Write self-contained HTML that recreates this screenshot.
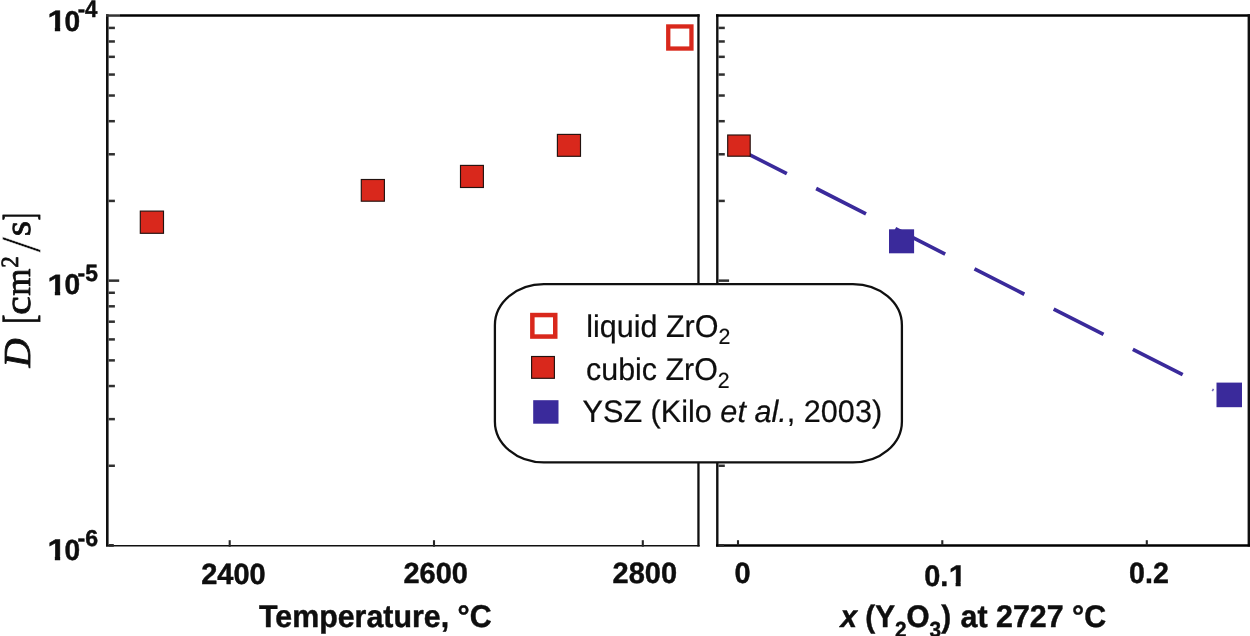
<!DOCTYPE html>
<html lang="en"><head><meta charset="utf-8"><title>Diffusion coefficient of ZrO2</title>
<style>html,body{margin:0;padding:0;background:#fff;overflow:hidden}svg{display:block}text{font-family:"Liberation Sans",Arial,sans-serif;text-rendering:geometricPrecision;fill:#0e0e0e}.b{font-weight:bold}.s{font-family:"Liberation Serif","Times New Roman",serif}.i{font-style:italic}</style></head><body>
<svg width="1250" height="636" viewBox="0 0 1250 636">
<rect width="1250" height="636" fill="#fff"/>
<g stroke="#101010" fill="none" stroke-linecap="butt">
<line x1="107.3" y1="14.2" x2="107.3" y2="546.6" stroke-width="2.6"/>
<line x1="106" y1="15.55" x2="120" y2="15.55" stroke-width="2.5" stroke="#333"/>
<line x1="120" y1="15.55" x2="699.6" y2="15.55" stroke-width="2.5" stroke="#000"/>
<line x1="698.45" y1="14.2" x2="698.45" y2="546.6" stroke-width="2.3"/>
<line x1="106" y1="545.75" x2="699.6" y2="545.75" stroke-width="1.6"/>
<line x1="717.3" y1="14.2" x2="717.3" y2="546.6" stroke-width="2.4"/>
<line x1="716.1" y1="15.55" x2="1250" y2="15.55" stroke-width="2.5" stroke="#000"/>
<line x1="1248.8" y1="14.2" x2="1248.8" y2="546.6" stroke-width="2.4"/>
<line x1="716.1" y1="545.45" x2="1250" y2="545.45" stroke-width="2.6" stroke="#000"/>
<line x1="718.5" y1="545.4" x2="724" y2="545.4" stroke-width="2.6" stroke="#2c2c2c"/>
<line x1="108.6" y1="545.4" x2="113.8" y2="545.4" stroke-width="2.8" stroke="#2c2c2c"/>
<line x1="108.6" y1="280.65" x2="119.2" y2="280.65" stroke-width="2.5" stroke="#303030"/>
<line x1="108.6" y1="200.92" x2="114.9" y2="200.92" stroke-width="2.5" stroke="#303030"/>
<line x1="108.6" y1="154.28" x2="114.9" y2="154.28" stroke-width="2.5" stroke="#303030"/>
<line x1="108.6" y1="121.19" x2="114.9" y2="121.19" stroke-width="2.5" stroke="#303030"/>
<line x1="108.6" y1="95.53" x2="114.9" y2="95.53" stroke-width="2.5" stroke="#303030"/>
<line x1="108.6" y1="74.56" x2="114.9" y2="74.56" stroke-width="2.5" stroke="#303030"/>
<line x1="108.6" y1="56.83" x2="114.9" y2="56.83" stroke-width="2.5" stroke="#303030"/>
<line x1="108.6" y1="41.47" x2="114.9" y2="41.47" stroke-width="2.5" stroke="#303030"/>
<line x1="108.6" y1="27.92" x2="114.9" y2="27.92" stroke-width="2.5" stroke="#303030"/>
<line x1="108.6" y1="465.77" x2="114.9" y2="465.77" stroke-width="2.5" stroke="#303030"/>
<line x1="108.6" y1="419.13" x2="114.9" y2="419.13" stroke-width="2.5" stroke="#303030"/>
<line x1="108.6" y1="386.04" x2="114.9" y2="386.04" stroke-width="2.5" stroke="#303030"/>
<line x1="108.6" y1="360.38" x2="114.9" y2="360.38" stroke-width="2.5" stroke="#303030"/>
<line x1="108.6" y1="339.41" x2="114.9" y2="339.41" stroke-width="2.5" stroke="#303030"/>
<line x1="108.6" y1="321.68" x2="114.9" y2="321.68" stroke-width="2.5" stroke="#303030"/>
<line x1="108.6" y1="306.32" x2="114.9" y2="306.32" stroke-width="2.5" stroke="#303030"/>
<line x1="108.6" y1="292.77" x2="114.9" y2="292.77" stroke-width="2.5" stroke="#303030"/>
<line x1="718.5" y1="280.65" x2="729.1" y2="280.65" stroke-width="2.5" stroke="#303030"/>
<line x1="718.5" y1="200.92" x2="724.8" y2="200.92" stroke-width="2.5" stroke="#303030"/>
<line x1="718.5" y1="154.28" x2="724.8" y2="154.28" stroke-width="2.5" stroke="#303030"/>
<line x1="718.5" y1="121.19" x2="724.8" y2="121.19" stroke-width="2.5" stroke="#303030"/>
<line x1="718.5" y1="95.53" x2="724.8" y2="95.53" stroke-width="2.5" stroke="#303030"/>
<line x1="718.5" y1="74.56" x2="724.8" y2="74.56" stroke-width="2.5" stroke="#303030"/>
<line x1="718.5" y1="56.83" x2="724.8" y2="56.83" stroke-width="2.5" stroke="#303030"/>
<line x1="718.5" y1="41.47" x2="724.8" y2="41.47" stroke-width="2.5" stroke="#303030"/>
<line x1="718.5" y1="27.92" x2="724.8" y2="27.92" stroke-width="2.5" stroke="#303030"/>
<line x1="718.5" y1="465.77" x2="724.8" y2="465.77" stroke-width="2.5" stroke="#303030"/>
<line x1="718.5" y1="419.13" x2="724.8" y2="419.13" stroke-width="2.5" stroke="#303030"/>
<line x1="718.5" y1="386.04" x2="724.8" y2="386.04" stroke-width="2.5" stroke="#303030"/>
<line x1="718.5" y1="360.38" x2="724.8" y2="360.38" stroke-width="2.5" stroke="#303030"/>
<line x1="718.5" y1="339.41" x2="724.8" y2="339.41" stroke-width="2.5" stroke="#303030"/>
<line x1="718.5" y1="321.68" x2="724.8" y2="321.68" stroke-width="2.5" stroke="#303030"/>
<line x1="718.5" y1="306.32" x2="724.8" y2="306.32" stroke-width="2.5" stroke="#303030"/>
<line x1="718.5" y1="292.77" x2="724.8" y2="292.77" stroke-width="2.5" stroke="#303030"/>
<line x1="229.7" y1="540.2" x2="229.7" y2="546.7" stroke-width="2.1" stroke="#262626"/>
<line x1="434" y1="540.2" x2="434" y2="546.7" stroke-width="2.1" stroke="#262626"/>
<line x1="642.8" y1="540.2" x2="642.8" y2="546.7" stroke-width="2.1" stroke="#262626"/>
<line x1="738.0" y1="540.2" x2="738.0" y2="545.3" stroke-width="2.1" stroke="#262626"/>
<line x1="942.3" y1="540.2" x2="942.3" y2="545.3" stroke-width="2.1" stroke="#262626"/>
<line x1="1146.8" y1="540.2" x2="1146.8" y2="545.3" stroke-width="2.1" stroke="#262626"/>
</g>
<line x1="737.0" y1="148.28" x2="1210.0" y2="388.57" stroke="#3a2a9b" stroke-width="3.7" stroke-dasharray="55.9 32.9"/>
<line x1="1212.2" y1="389.6" x2="1213.6" y2="390.4" stroke="#3a2a9b" stroke-width="2.4" opacity="0.7"/>
<rect x="140.3" y="211.1" width="23.2" height="22.2" fill="#d9281c" stroke="#23120f" stroke-width="1.15"/>
<rect x="361.3" y="179.5" width="23.1" height="21.7" fill="#d9281c" stroke="#23120f" stroke-width="1.15"/>
<rect x="460.5" y="165.4" width="22.9" height="22.1" fill="#d9281c" stroke="#23120f" stroke-width="1.15"/>
<rect x="557.4" y="134.4" width="23.1" height="21.9" fill="#d9281c" stroke="#23120f" stroke-width="1.15"/>
<rect x="727.7" y="135.0" width="22.5" height="21.2" fill="#d9281c" stroke="#23120f" stroke-width="1.15"/>
<rect x="668.25" y="26.45" width="23.20" height="22.10" fill="#fff" stroke="#d9281c" stroke-width="4.3"/>
<rect x="889" y="229.3" width="25.1" height="24" fill="#3a2a9b"/>
<rect x="1216.5" y="382.6" width="25.5" height="24.6" fill="#3a2a9b"/>
<rect x="494.9" y="284.2" width="407" height="178.2" rx="49" ry="41" fill="#fff" stroke="#101010" stroke-width="2.3"/>
<rect x="532.35" y="315.05" width="22.90" height="21.50" fill="#fff" stroke="#d9281c" stroke-width="4.5"/>
<rect x="531.6" y="356.5" width="22.8" height="21.8" fill="#d9281c" stroke="#23120f" stroke-width="1.15"/>
<rect x="533.2" y="400.2" width="25.3" height="23.5" fill="#3a2a9b"/>
<text class="b" transform="translate(201.21,583.78) scale(0.9875,1)" font-size="29.37" stroke="#0e0e0e" stroke-width="0.45" stroke-linejoin="round">2400</text>
<text class="b" transform="translate(403.51,583.48) scale(0.9931,1)" font-size="29.15" stroke="#0e0e0e" stroke-width="0.45" stroke-linejoin="round">2600</text>
<text class="b" transform="translate(612.51,582.68) scale(0.9828,1)" font-size="29.51" stroke="#0e0e0e" stroke-width="0.45" stroke-linejoin="round">2800</text>
<text class="b" transform="translate(734.57,582.88) scale(0.9810,1)" font-size="29.51" stroke="#0e0e0e" stroke-width="0.45" stroke-linejoin="round">0</text>
<text class="b" transform="translate(924.27,586.18) scale(0.9747,1)" font-size="29.65" stroke="#0e0e0e" stroke-width="0.45" stroke-linejoin="round">0.</text><clipPath id="c1_1"><polygon points="-2.00,-29.94 29.94,-29.94 29.94,-4.36 11.42,-4.36 11.42,5.99 6.67,5.99 6.67,-4.36 -2.00,-4.36"/></clipPath><text class="b" clip-path="url(#c1_1)" transform="translate(948.65,586.10) scale(1.0497,1)" font-size="29.94" stroke="#0e0e0e" stroke-width="0.45">1</text>
<text class="b" transform="translate(1129.08,583.08) scale(0.9701,1)" font-size="29.51" stroke="#0e0e0e" stroke-width="0.45" stroke-linejoin="round">0.2</text>
<text class="b" transform="translate(259.02,626.70) scale(0.9669,1)" font-size="31.40" stroke="#0e0e0e" stroke-width="0.45" stroke-linejoin="round">Temperature, °C</text>
<text class="b" transform="translate(840.51,627.40) scale(0.9499,1)" font-size="31.24" stroke="#0e0e0e" stroke-width="0.45" stroke-linejoin="round"><tspan class="i">x</tspan> (Y<tspan font-size="0.7em" dy="0.42em">2</tspan><tspan dy="-0.294em">O</tspan><tspan font-size="0.7em" dy="0.42em">3</tspan><tspan dy="-0.294em">)</tspan></text>
<text class="b" transform="translate(960.51,627.39) scale(0.9720,1)" font-size="31.27" stroke="#0e0e0e" stroke-width="0.45" stroke-linejoin="round">at 2727 °C</text>
<clipPath id="c1_2"><polygon points="-2.00,-29.43 29.43,-29.43 29.43,-4.30 11.23,-4.30 11.23,5.89 6.55,5.89 6.55,-4.30 -2.00,-4.30"/></clipPath><text class="b" clip-path="url(#c1_2)" transform="translate(47.42,31.05) scale(1.1353,1)" font-size="29.43" stroke="#0e0e0e" stroke-width="0.45">1</text><text class="b" transform="translate(64.40,30.79) scale(0.9806,1)" font-size="28.66" stroke="#0e0e0e" stroke-width="0.45" stroke-linejoin="round">0</text><text class="b" transform="translate(77.64,16.58) scale(0.9296,1)" font-size="23.87" stroke="#0e0e0e" stroke-width="0.45" stroke-linejoin="round">-4</text>
<clipPath id="c1_3"><polygon points="-2.00,-29.29 29.29,-29.29 29.29,-4.29 11.17,-4.29 11.17,5.86 6.52,5.86 6.52,-4.29 -2.00,-4.29"/></clipPath><text class="b" clip-path="url(#c1_3)" transform="translate(47.42,294.75) scale(1.1410,1)" font-size="29.29" stroke="#0e0e0e" stroke-width="0.45">1</text><text class="b" transform="translate(64.40,294.49) scale(0.9854,1)" font-size="28.52" stroke="#0e0e0e" stroke-width="0.45" stroke-linejoin="round">0</text><text class="b" transform="translate(77.61,280.54) scale(0.9720,1)" font-size="23.53" stroke="#0e0e0e" stroke-width="0.45" stroke-linejoin="round">-5</text>
<clipPath id="c1_4"><polygon points="-2.00,-29.80 29.80,-29.80 29.80,-4.34 11.36,-4.34 11.36,5.96 6.63,5.96 6.63,-4.34 -2.00,-4.34"/></clipPath><text class="b" clip-path="url(#c1_4)" transform="translate(47.42,560.20) scale(1.1215,1)" font-size="29.80" stroke="#0e0e0e" stroke-width="0.45">1</text><text class="b" transform="translate(64.40,559.93) scale(0.9687,1)" font-size="29.01" stroke="#0e0e0e" stroke-width="0.45" stroke-linejoin="round">0</text><text class="b" transform="translate(77.60,545.84) scale(1.0052,1)" font-size="23.03" stroke="#0e0e0e" stroke-width="0.45" stroke-linejoin="round">-6</text>
<text class="" transform="translate(586.16,336.69) scale(0.9726,1)" font-size="31.40" stroke="#0e0e0e" stroke-width="0.2" stroke-linejoin="round">liquid ZrO<tspan font-size="0.7em" dy="0.35em">2</tspan></text>
<text class="" transform="translate(586.03,379.99) scale(0.9688,1)" font-size="31.40" stroke="#0e0e0e" stroke-width="0.2" stroke-linejoin="round">cubic ZrO<tspan font-size="0.7em" dy="0.35em">2</tspan></text>
<text class="" transform="translate(582.53,421.79) scale(0.9879,1)" font-size="31.00" stroke="#0e0e0e" stroke-width="0.2" stroke-linejoin="round">YSZ (Kilo <tspan class="i">et al.</tspan>, 2003)</text>
<g transform="translate(0,370) rotate(-90)"><text class="s i" transform="translate(2.60,30.40) scale(1.0553,1)" font-size="38.17" stroke="#0e0e0e" stroke-width="0.8" stroke-linejoin="round">D</text> <text class="s" transform="translate(46.29,33.83) scale(0.6271,1)" font-size="44.94" stroke="#0e0e0e" stroke-width="0.8" stroke-linejoin="round">[</text><text class="s" transform="translate(55.24,30.23) scale(1.1345,1)" font-size="36.67" stroke="#0e0e0e" stroke-width="0.8" stroke-linejoin="round">c</text><text class="s" transform="translate(74.20,30.40) scale(0.9734,1)" font-size="35.96" stroke="#0e0e0e" stroke-width="0.8" stroke-linejoin="round">m</text><text class="s" transform="translate(102.37,17.70) scale(0.9313,1)" font-size="24.70" stroke="#0e0e0e" stroke-width="0.8" stroke-linejoin="round">2</text><text class="s" transform="translate(117.55,39.78) scale(0.9886,1)" font-size="57.01" stroke="#fff" stroke-width="0.5">/</text><text class="s" transform="translate(133.63,30.43) scale(1.0736,1)" font-size="36.67" stroke="#0e0e0e" stroke-width="0.8" stroke-linejoin="round">s</text><text class="s" transform="translate(149.67,33.63) scale(0.4648,1)" font-size="44.94" stroke="#0e0e0e" stroke-width="0.8" stroke-linejoin="round">]</text></g>
</svg></body></html>
